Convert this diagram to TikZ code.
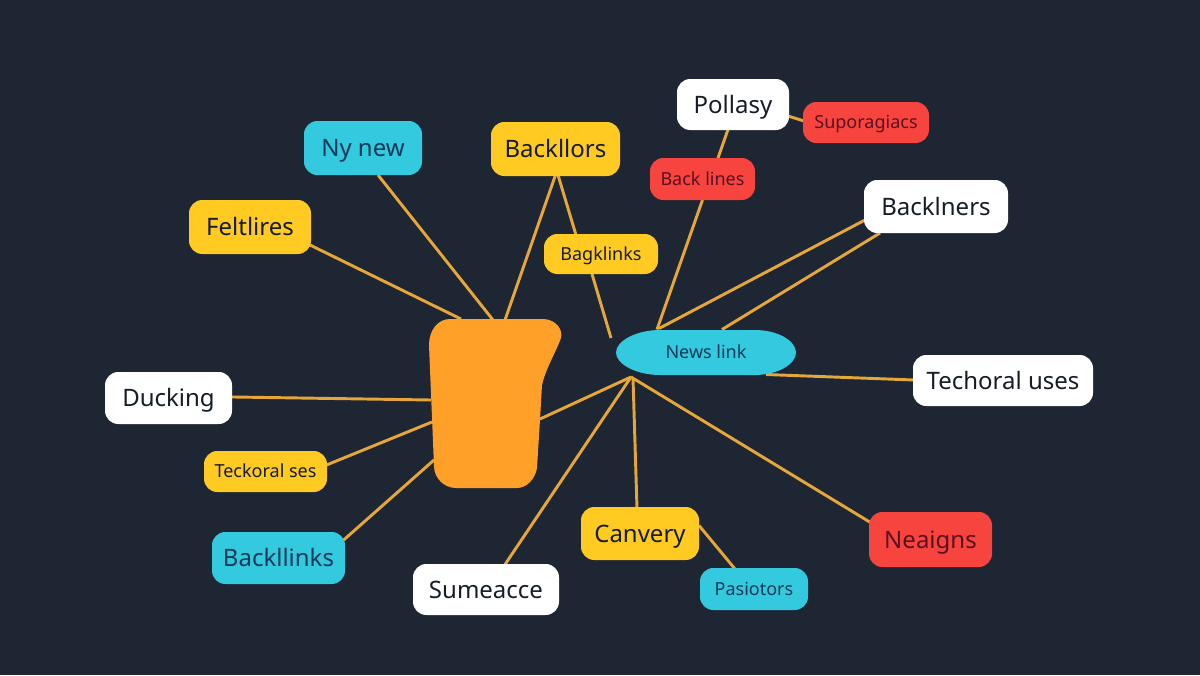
\documentclass[tikz,border=0pt]{standalone}
\usepackage{fontspec}
\setmainfont{Noto Sans}
\definecolor{bgc}{HTML}{1E2533}
\definecolor{yel}{HTML}{FFCB22}
\definecolor{cya}{HTML}{33C9DE}
\definecolor{redd}{HTML}{F8443F}
\definecolor{ora}{HTML}{FFA028}
\definecolor{lnk}{HTML}{E5A73A}
\definecolor{ink}{HTML}{161C28}
\definecolor{inkc}{HTML}{0F3A5A}
\definecolor{inkr}{HTML}{5A1020}
\pgfdeclarelayer{background}
\pgfsetlayers{background,main}
\tikzset{
  wh/.style 2 args={minimum width=#1*0.75pt,minimum height=#2*0.75pt},
  box/.style={rectangle,rounded corners=10pt,inner sep=0pt,text=ink,text height=12.85pt,text depth=0pt,font=\fontsize{18}{20}\selectfont},
  small/.style={text height=9.64pt,font=\fontsize{13.5}{16}\selectfont},
  yb/.style={box,fill=yel},
  cb/.style={box,fill=cya,text=inkc},
  rb/.style={box,fill=redd,text=inkr},
  wb/.style={box,fill=white},
  link/.style={draw=lnk,line width=2.2pt}
}
\newcommand{\cn}[6]{\draw[link] ([shift={(#2,#3)}]#1.center) -- ([shift={(#5,#6)}]#4.center);}
\begin{document}
\begin{tikzpicture}[x=0.75pt,y=-0.75pt]
\useasboundingbox (0,0) rectangle (1200,675);
\begin{pgfonlayer}{background}
\fill[bgc] (0,0) rectangle (1200,675);
\end{pgfonlayer}
% central shape
\fill[ora] (450,319) -- (544,319) .. controls (556,320) and (563,329) .. (561,338)
  .. controls (556,352) and (546,368) .. (542,385)
  -- (540,420) -- (537,468) .. controls (535,480) and (526,488) .. (517,488)
  -- (456,488) .. controls (444,488) and (434,478) .. (434,466)
  -- (429,345) .. controls (429,330) and (438,319) .. (450,319) -- cycle;
\node[inner sep=0pt,minimum size=0pt] (cup) at (490,400) {};
% ellipse backing
\fill[cya] (616,352.5) .. controls (616,341) and (636,330) .. (660,330)
  -- (755,330) .. controls (778,330) and (796,341) .. (796,352.5)
  .. controls (796,364) and (778,375) .. (755,375)
  -- (660,375) .. controls (636,375) and (616,364) .. (616,352.5) -- cycle;
\node[inner sep=0pt,text=inkc,text height=9.64pt,text depth=0pt,font=\fontsize{13.5}{16}\selectfont] (nl) at (706,352.5) {News link};
\coordinate (hub) at (631,377);
\coordinate (free) at (611,338);
% nodes
\node[cb,wh={118}{54}] (ny) at (363,148) {Ny new};
\node[yb,wh={129}{54}] (bl) at (555.5,149) {Backllors};
\node[yb,wh={122}{54}] (fe) at (250,227) {Feltlires};
\node[wb,wh={112}{51}] (po) at (733,104.5) {Pollasy};
\node[rb,small,wh={126}{41}] (su) at (866,122.5) {Suporagiacs};
\node[rb,small,wh={105}{42}] (bk) at (702.5,179) {Back lines};
\node[yb,small,wh={114}{40}] (bg) at (601,254) {Bagklinks};
\node[wb,wh={144}{53}] (bn) at (936,206.5) {Backlners};
\node[wb,wh={180}{51}] (te) at (1003,380.5) {Techoral uses};
\node[wb,wh={127}{52}] (du) at (168.5,398) {Ducking};
\node[yb,small,wh={123}{41}] (ts) at (265.5,471.5) {Teckoral ses};
\node[cb,wh={133}{52}] (ba) at (278.5,558) {Backllinks};
\node[wb,wh={146}{51}] (sm) at (486,589.5) {Sumeacce};
\node[yb,wh={118}{53}] (ca) at (640,533.5) {Canvery};
\node[cb,small,wh={108}{42}] (pa) at (754,589) {Pasiotors};
\node[rb,wh={123}{55}] (ne) at (930.5,539.5) {Neaigns};
% connectors
\begin{pgfonlayer}{background}
\cn{fe}{60}{18}{cup}{-29}{-81}
\cn{ny}{15}{27}{cup}{3}{-80}
\cn{bl}{0}{26}{cup}{15}{-80}
\cn{bl}{2.5}{26}{bg}{-25}{-19}
\cn{bg}{-9}{20}{free}{0}{0}
\cn{po}{-5}{25}{bk}{15.5}{-21}
\cn{po}{55}{11.5}{su}{-62}{-1.5}
\cn{bk}{0}{21}{nl}{-49}{-23}
\cn{bn}{-71}{13.5}{nl}{-47}{-24}
\cn{bn}{-56}{26.5}{nl}{16}{-23}
\cn{te}{-89}{-0.5}{nl}{60}{22}
\cn{du}{-0}{-2}{cup}{-59}{0}
\cn{ts}{61}{-6.5}{cup}{-58}{22}
\cn{ba}{64}{-17}{cup}{-56}{60}
\cn{cup}{50}{19}{hub}{0}{0}
\cn{sm}{19}{-25}{hub}{0}{0}
\cn{ca}{-3}{-25}{hub}{2}{1}
\cn{ne}{-60}{-17}{hub}{0}{0}
\cn{ca}{59}{-8}{pa}{-19}{-20}
\end{pgfonlayer}
\end{tikzpicture}
\end{document}
